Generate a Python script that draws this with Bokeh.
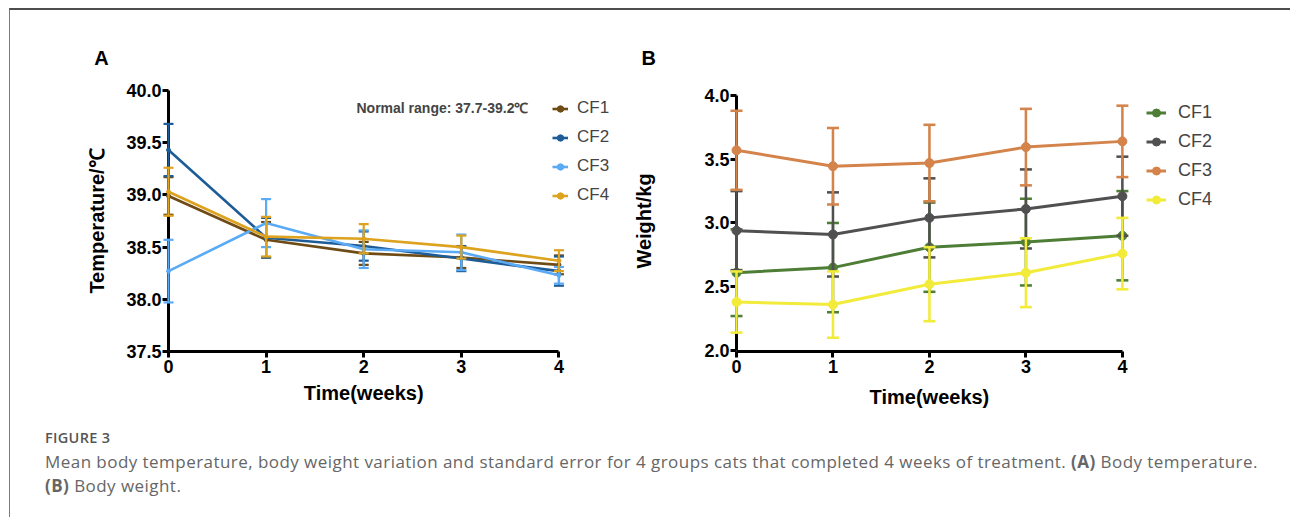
from bokeh.plotting import figure
from bokeh.models import (Legend, LegendItem, Label, Div, FixedTicker,
                          NumeralTickFormatter, Range1d)
from bokeh.core.properties import value
from bokeh.layouts import row, column
from bokeh.embed import file_html
from bokeh.resources import INLINE

# ---------------- data ----------------
weeks = [0, 1, 2, 3, 4]
groups = ["CF1", "CF2", "CF3", "CF4"]

# Panel A: body temperature (mean, standard error)
temp_cf1 = [38.99, 38.57, 38.44, 38.40, 38.33]
temp_cf2 = [39.43, 38.59, 38.51, 38.39, 38.27]
temp_cf3 = [38.27, 38.73, 38.48, 38.45, 38.23]
temp_cf4 = [39.03, 38.60, 38.58, 38.50, 38.37]
temp_se_cf1 = [0.18, 0.17, 0.11, 0.10, 0.09]
temp_se_cf2 = [0.25, 0.19, 0.14, 0.12, 0.14]
temp_se_cf3 = [0.30, 0.23, 0.18, 0.17, 0.08]
temp_se_cf4 = [0.23, 0.19, 0.14, 0.11, 0.10]
temp_ticks = [37.5, 38.0, 38.5, 39.0, 39.5, 40.0]

# Panel B: body weight (mean, standard error)
wt_cf1 = [2.61, 2.65, 2.81, 2.85, 2.90]
wt_cf2 = [2.94, 2.91, 3.04, 3.11, 3.21]
wt_cf3 = [3.57, 3.445, 3.47, 3.595, 3.64]
wt_cf4 = [2.38, 2.36, 2.52, 2.61, 2.76]
wt_se_cf1 = [0.34, 0.35, 0.35, 0.34, 0.35]
wt_se_cf2 = [0.31, 0.33, 0.31, 0.31, 0.31]
wt_se_cf3 = [0.31, 0.30, 0.30, 0.30, 0.28]
wt_se_cf4 = [0.24, 0.26, 0.29, 0.27, 0.28]
wt_ticks = [2.0, 2.5, 3.0, 3.5, 4.0]

colors_a = ["#6E4B14", "#1D5C96", "#5AAAF5", "#DDA21E"]
colors_b = ["#4E7D35", "#505050", "#D4834B", "#F2EB3A"]

FONT = "Liberation Sans"
X_MID = (weeks[0] + weeks[-1]) / 2


def style_axes(p, ylabel, ylabel_standoff, ybounds):
    for ax in (p.xaxis[0], p.yaxis[0]):
        ax.axis_line_width = 3
        ax.axis_line_color = "black"
        ax.major_tick_line_width = 3
        ax.major_tick_line_color = "black"
        ax.major_tick_out = 6
        ax.major_tick_in = 0
        ax.minor_tick_out = 0
        ax.minor_tick_in = 0
        ax.major_label_text_font = FONT
        ax.major_label_text_font_style = "bold"
        ax.major_label_text_font_size = "18px"
        ax.major_label_text_color = "black"
        ax.axis_label_text_font = FONT
        ax.axis_label_text_font_style = "bold"
        ax.axis_label_text_font_size = "20px"
        ax.axis_label_text_color = "black"
    p.yaxis[0].axis_label = ylabel
    p.xaxis[0].ticker = FixedTicker(ticks=weeks)
    p.xaxis[0].bounds = (weeks[0], weeks[-1])
    p.yaxis[0].bounds = ybounds
    p.xaxis[0].major_label_standoff = 2
    p.yaxis[0].major_label_standoff = 1
    p.yaxis[0].axis_label_standoff = ylabel_standoff
    p.yaxis[0].formatter = NumeralTickFormatter(format="0.0")
    p.xgrid.visible = False
    p.ygrid.visible = False
    p.outline_line_color = None


def add_series(p, means, ses, color, lw, msize, cap):
    upper = [m + s for m, s in zip(means, ses)]
    lower = [m - s for m, s in zip(means, ses)]
    p.segment(x0=weeks, y0=lower, x1=weeks, y1=upper, line_color=color,
              line_width=lw * 0.85, level="overlay")
    p.scatter(x=weeks, y=upper, marker="dash", size=cap, line_color=color,
              line_width=lw * 0.85, level="overlay")
    p.scatter(x=weeks, y=lower, marker="dash", size=cap, line_color=color,
              line_width=lw * 0.85, level="overlay")
    ln = p.line(x=weeks, y=means, line_color=color, line_width=lw, level="overlay")
    sc = p.scatter(x=weeks, y=means, marker="circle", size=msize, fill_color=color,
                   line_color=color, level="overlay")
    return [ln, sc]


def add_text(p, x, y, txt, size, align="left"):
    p.text(x=[x], y=[y], text=[txt], text_font=value(FONT),
           text_font_style="bold", text_font_size=size, text_baseline="middle",
           text_align=align, text_color="black", level="overlay")


# ---------------- Panel A ----------------
pA = figure(output_backend="svg", toolbar_location=None,
            x_range=Range1d(0, 4.6), y_range=Range1d(37.5, 40.0),
            frame_width=449, frame_height=261,
            min_border_left=158, min_border_right=4,
            min_border_top=80, min_border_bottom=64,
            background_fill_color="white", border_fill_color="white")
style_axes(pA, "Temperature/\u2103", 15, (temp_ticks[0], temp_ticks[-1]))
pA.yaxis[0].ticker = FixedTicker(ticks=temp_ticks)

itemsA = []
for g, m, s, c in zip(groups, [temp_cf1, temp_cf2, temp_cf3, temp_cf4],
                      [temp_se_cf1, temp_se_cf2, temp_se_cf3, temp_se_cf4], colors_a):
    rs = add_series(pA, m, s, c, 2.6, 4, 10)
    itemsA.append(LegendItem(label=g, renderers=rs))

legA = Legend(items=itemsA, location=(384, 143.5), padding=0, margin=0,
              glyph_width=16, glyph_height=25, spacing=4, label_standoff=9,
              label_text_font=FONT, label_text_font_size="17px",
              border_line_color=None, background_fill_alpha=0)
pA.add_layout(legA)

add_text(pA, -0.76, 40.314, "A", "20px")
add_text(pA, X_MID, 37.107, "Time(weeks)", "20px", "center")
pA.add_layout(Label(x=188, y=244, x_units="screen", y_units="screen",
                    text="Normal range: 37.7-39.2\u2103",
                    text_font=FONT, text_font_style="bold", text_font_size="14px",
                    text_baseline="middle"))

# ---------------- Panel B ----------------
pB = figure(output_backend="svg", toolbar_location=None,
            x_range=Range1d(0, 5.1), y_range=Range1d(1.992, 4.039),
            frame_width=492, frame_height=261,
            min_border_left=115, min_border_right=57,
            min_border_top=80, min_border_bottom=64,
            background_fill_color="white", border_fill_color="white")
style_axes(pB, "Weight/kg", 46, (wt_ticks[0], wt_ticks[-1]))
pB.yaxis[0].ticker = FixedTicker(ticks=wt_ticks)

itemsB = []
for g, m, s, c in zip(groups, [wt_cf1, wt_cf2, wt_cf3, wt_cf4],
                      [wt_se_cf1, wt_se_cf2, wt_se_cf3, wt_se_cf4], colors_b):
    rs = add_series(pB, m, s, c, 3, 9, 12)
    itemsB.append(LegendItem(label=g, renderers=rs))

legB = Legend(items=itemsB, location=(410, 138.8), padding=0, margin=0,
              glyph_width=20, glyph_height=25, spacing=4, label_standoff=12,
              label_text_font=FONT, label_text_font_size="18px",
              border_line_color=None, background_fill_alpha=0)
pB.add_layout(legB)

add_text(pB, -0.984, 4.29, "B", "20px")
add_text(pB, X_MID, 1.639, "Time(weeks)", "20px", "center")

# ---------------- Caption ----------------
caption_html = (
    "<div style=\"font-family:'Open Sans',sans-serif;color:#666666;padding-left:30px;\">"
    "<div style=\"font-size:14.5px;font-weight:600;color:#555555;line-height:20px;"
    "margin-top:8px;letter-spacing:0.3px;\">FIGURE 3</div>"
    "<div style=\"font-size:17px;line-height:24px;margin-top:2px;white-space:nowrap;"
    "letter-spacing:0.45px;\">"
    "Mean body temperature, body weight variation and standard error for 4 groups cats "
    "that completed 4 weeks of treatment. <b>(A)</b> Body temperature.<br>"
    "<b>(B)</b> Body weight.</div></div>"
)
cap = Div(text=caption_html, width=1270, height=92)

layout = column(row(pA, pB), cap,
                styles={"margin-top": "8px", "margin-left": "9px",
                        "border-top": "2px solid #4d4d4d",
                        "border-left": "1px solid #7a7a7a"})

open("out.html", "w").write(file_html(layout, INLINE))
